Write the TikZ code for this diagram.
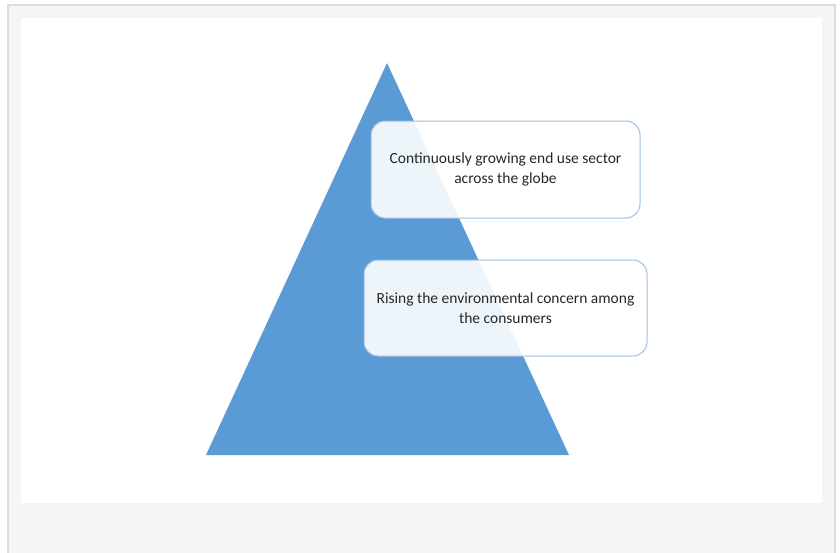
\documentclass[tikz,border=0pt]{standalone}
\usepackage{fontspec}
\setmainfont{Carlito}
\definecolor{pyrblue}{HTML}{5B9BD5}
\definecolor{boxline}{HTML}{9DBFE3}
\definecolor{framegray}{HTML}{DDDDDD}
\definecolor{panelgray}{HTML}{F5F5F5}
\begin{document}
\begin{tikzpicture}[
  x=1pt, y=-1pt,
  driver/.style={draw=boxline, line width=1pt, rounded corners=14pt, fill=white, fill opacity=0.9,
    text opacity=1, align=center, inner sep=0pt, font=\fontsize{15.5}{19.5}\selectfont, text=black!85}
]
  % Rahmen a pozadi
  \useasboundingbox (0,0) rectangle (840,552);
  \fill[white] (0,0) rectangle (840,552);
  \draw[framegray, fill=panelgray, line width=2pt] (8,5) rectangle (835,560);
  \fill[white] (21,18) rectangle (822,503);
  % Pyramida
  \coordinate (apex) at (387,63);
  \coordinate (bl) at (206,455);
  \coordinate (br) at (569,455);
  \fill[pyrblue] (apex) -- (br) -- (bl) -- cycle;
  % Textove boxy
  \node[driver, minimum width=269pt, minimum height=97pt] (growth) at (505.5,169.5)
    {Continuously growing end use sector\\across the globe};
  \node[driver, minimum width=283pt, minimum height=96pt] (concern) at (505.5,308)
    {Rising the environmental concern among\\the consumers};
\end{tikzpicture}
\end{document}
